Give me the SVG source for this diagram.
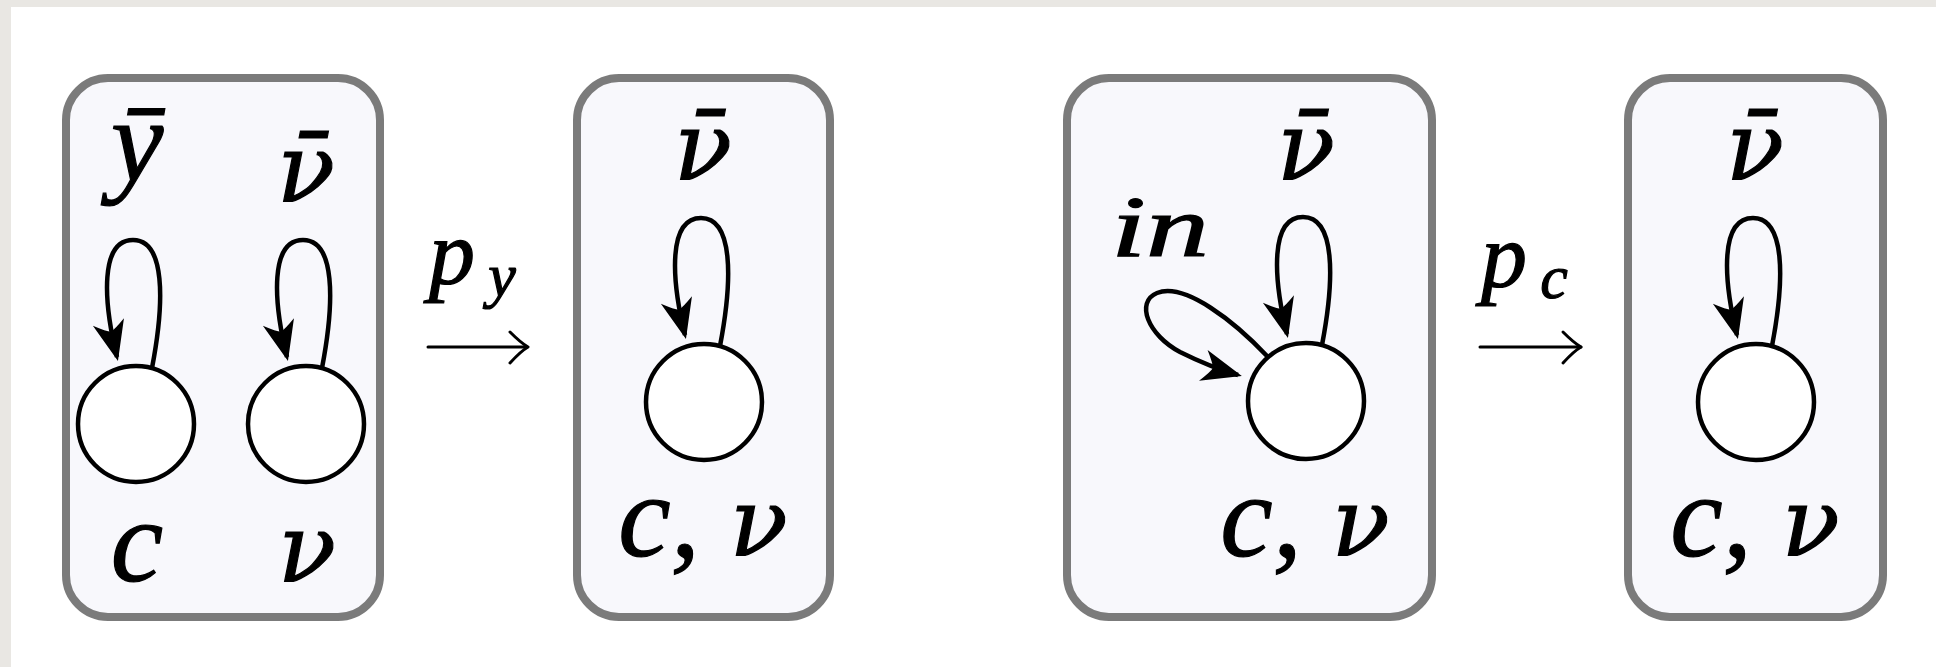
<svg xmlns="http://www.w3.org/2000/svg" width="1936" height="667" viewBox="0 0 1936 667">
  <style>
    .box { fill: #f8f8fc; stroke: #7b7b7b; stroke-width: 8; }
    .node { fill: #ffffff; stroke: #000; stroke-width: 4.5; }
    .loop { fill: none; stroke: #000; stroke-width: 4.5; marker-end: url(#head); }
    .map { fill: none; stroke: #000; stroke-width: 3; stroke-linecap: round; stroke-linejoin: round; }
    .lbl { font-family: "Liberation Serif", "DejaVu Serif", serif; font-style: italic; fill: #000; stroke: #000; stroke-width: 1.2; text-anchor: middle; }
    .nu { font-family: "DejaVu Serif", "Liberation Serif", serif; }
    .big { font-size: 118px; }
    .nub { font-size: 96px; }
    .sm { font-size: 86px; }
    .pp { font-size: 92px; }
    .sub { font-size: 62px; }
  </style>
  <defs>
    <marker id="head" markerUnits="userSpaceOnUse" markerWidth="60" markerHeight="60" refX="-4" refY="0" orient="auto" overflow="visible">
      <path d="M0,0 L-40,-16 Q-31,-4 -30,0 Q-31,4 -40,16 Z" fill="#000"/>
    </marker>
  </defs>
  <rect x="0" y="0" width="1936" height="667" fill="#ffffff"/>
  <rect x="0" y="0" width="1936" height="7" fill="#e9e7e3"/>
  <rect x="0" y="0" width="11" height="667" fill="#e9e7e3"/>

  <g id="box1">
    <rect class="box" x="66" y="78" width="314" height="539" rx="42" ry="42"/>
    <circle class="node" cx="136" cy="424" r="58"/>
    <circle class="node" cx="306" cy="424" r="58"/>
    <text class="lbl big" x="137" y="181">ȳ</text>
    <text class="lbl nu nub" x="306" y="202">ν̄</text>
    <text class="lbl big" x="137" y="581">c</text>
    <text class="lbl nu nub" x="307" y="582">ν</text>
  </g>

  <g id="box2">
    <rect class="box" x="577" y="78" width="253" height="539" rx="42" ry="42"/>
    <circle class="node" cx="704" cy="402" r="58"/>
    <text class="lbl nu nub" x="703" y="180">ν̄</text>
    <text class="lbl big" x="703" y="556">c, <tspan class="nu nub">ν</tspan></text>
  </g>

  <g id="box3">
    <rect class="box" x="1067" y="78" width="365" height="539" rx="42" ry="42"/>
    <circle class="node" cx="1306" cy="401" r="58"/>
    <text class="lbl nu nub" x="1306" y="180">ν̄</text>
    <text class="lbl sm" x="1160" y="256" textLength="98" lengthAdjust="spacingAndGlyphs">in</text>
    <text class="lbl big" x="1305" y="556">c, <tspan class="nu nub">ν</tspan></text>
  </g>

  <g id="box4">
    <rect class="box" x="1628" y="78" width="255" height="539" rx="42" ry="42"/>
    <circle class="node" cx="1756" cy="402" r="58"/>
    <text class="lbl nu nub" x="1755" y="180">ν̄</text>
    <text class="lbl big" x="1755" y="556">c, <tspan class="nu nub">ν</tspan></text>
  </g>

  <g id="connectors">
    <path class="loop" transform="translate(136,424)" d="M16,-56 C29,-124 29,-184 -3,-184 C-36,-184 -33,-124 -19,-67"/>
    <path class="loop" transform="translate(306,424)" d="M16,-56 C29,-124 29,-184 -3,-184 C-36,-184 -33,-124 -19,-67"/>
    <path class="loop" transform="translate(704,402)" d="M16,-56 C29,-124 29,-184 -3,-184 C-36,-184 -33,-124 -19,-67"/>
    <path class="loop" transform="translate(1306,401)" d="M16,-56 C29,-124 29,-184 -3,-184 C-36,-184 -33,-124 -19,-67"/>
    <path class="loop" transform="translate(1756,402)" d="M16,-56 C29,-124 29,-184 -3,-184 C-36,-184 -33,-124 -19,-67"/>
    <path class="loop" d="M1268,357 C1235,322 1185,282 1157,293 C1135,302 1148,335 1180,352 C1200,362 1220,370 1238,375"/>

    <g id="map_py">
      <path class="map" d="M428,347 L527,347"/>
      <path class="map" d="M510,332 Q521,343 528,347 Q521,351 510,363"/>
      <text class="lbl pp" x="452" y="284">p</text>
      <text class="lbl sub" x="502" y="296">y</text>
    </g>
    <g id="map_pc">
      <path class="map" d="M1480,347 L1581,347"/>
      <path class="map" d="M1563,332 Q1574,343 1581,347 Q1574,351 1563,363"/>
      <text class="lbl pp" x="1504" y="287">p</text>
      <text class="lbl sub" x="1554" y="298">c</text>
    </g>
  </g>
</svg>
